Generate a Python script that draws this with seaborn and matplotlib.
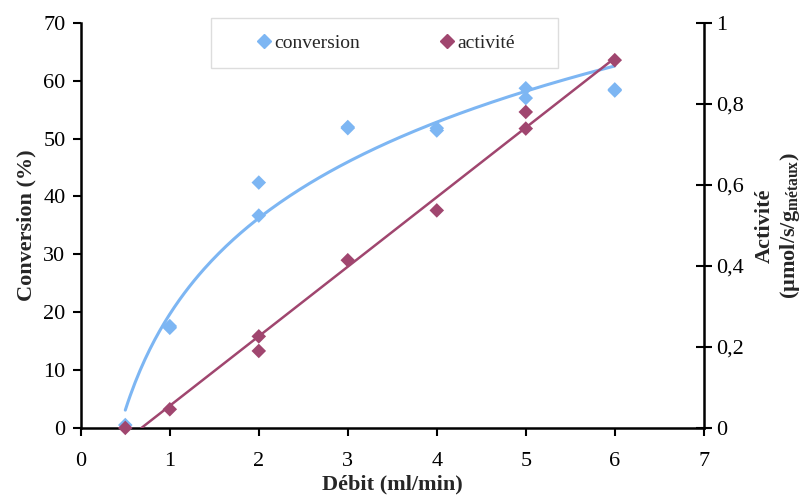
import matplotlib
matplotlib.use("Agg")
import matplotlib.pyplot as plt
from matplotlib.ticker import FuncFormatter, MultipleLocator
from matplotlib.lines import Line2D
from matplotlib.patches import Rectangle
import numpy as np
import pandas as pd
import seaborn as sns

# data
debit_conv = [0.5, 1, 1, 2, 2, 3, 3, 4, 4, 5, 5, 6, 6]
conversion = [0.5, 17.6, 17.3, 42.4, 36.7, 52.0, 51.8, 51.8, 51.4, 58.7, 57.0, 58.5, 58.3]
debit_act = [0.5, 1, 2, 2, 3, 4, 5, 5, 6]
activite = [0.0, 0.046, 0.226, 0.19, 0.414, 0.537, 0.78, 0.739, 0.908]

c_conv = "#7DB6F3"
c_act = "#A0466F"

sns.set_theme(style="white")
plt.rcParams["font.family"] = ["Liberation Serif", "DejaVu Serif"]
plt.rcParams["mathtext.fontset"] = "custom"
plt.rcParams["mathtext.rm"] = "Liberation Serif"
plt.rcParams["mathtext.bf"] = "Liberation Serif:bold"

df_c = pd.DataFrame({"x": debit_conv, "y": conversion})
df_a = pd.DataFrame({"x": debit_act, "y": activite})

# trendlines like Excel: logarithmic for conversion, linear for activite
a, b = np.polyfit(np.log(df_c["x"]), df_c["y"], 1)
xs = np.linspace(min(debit_conv), max(debit_conv), 200)
fit_c = pd.DataFrame({"x": xs, "y": a * np.log(xs) + b})
m, k = np.polyfit(df_a["x"], df_a["y"], 1)
x0 = max(-k / m, min(debit_act))
xa = np.linspace(x0, max(debit_act), 50)
fit_a = pd.DataFrame({"x": xa, "y": m * xa + k})

fig = plt.figure(figsize=(8.08, 4.97), dpi=100)
ax = fig.add_axes([0.1, 0.139, 0.771, 0.815])
ax2 = ax.twinx()

sns.lineplot(data=fit_c, x="x", y="y", ax=ax, color=c_conv, lw=2.2, zorder=2)
sns.scatterplot(data=df_c, x="x", y="y", ax=ax, marker="D", s=55, color=c_conv,
                edgecolor="none", zorder=3, clip_on=False)
sns.lineplot(data=fit_a, x="x", y="y", ax=ax2, color=c_act, lw=1.8, zorder=2)
sns.scatterplot(data=df_a, x="x", y="y", ax=ax2, marker="D", s=55, color=c_act,
                edgecolor="none", zorder=3, clip_on=False)

ax.set_xlim(0, 7)
ax.set_ylim(0, 70)
ax2.set_ylim(0, 1)
ax.xaxis.set_major_locator(MultipleLocator(1))
ax.yaxis.set_major_locator(MultipleLocator(10))
ax2.yaxis.set_major_locator(MultipleLocator(0.2))
ax2.yaxis.set_major_formatter(FuncFormatter(lambda v, p: ("%g" % round(v, 1)).replace(".", ",")))

for a_ in (ax, ax2):
    for s in a_.spines.values():
        s.set_color("black")
        s.set_linewidth(1.8)
    a_.spines["top"].set_visible(False)
ax.spines["right"].set_visible(False)
ax2.spines["left"].set_visible(False)
ax2.spines["bottom"].set_visible(False)

ax.tick_params(axis="both", which="major", direction="out", length=6, width=1.5,
               labelsize=16, colors="black", pad=11, bottom=True, left=True)
ax.tick_params(axis="y", pad=5)
ax2.tick_params(axis="y", direction="inout", length=12, width=1.5, labelsize=16,
                colors="black", pad=3, right=True)

ax.set_xlabel("Débit (ml/min)", fontsize=16, fontweight="bold", labelpad=3)
ax.set_ylabel("Conversion (%)", fontsize=16, fontweight="bold", labelpad=5)
ax2.set_ylabel("Activité\n(µmol/s/g$_{\\mathbf{métaux}}$)", fontsize=16,
               fontweight="bold", labelpad=8, linespacing=1.15)

# legend box drawn separately so its padding matches the reference
fig.patches.append(Rectangle((211 / 808, 1 - 68 / 497), 347 / 808, 50 / 497,
                             transform=fig.transFigure, facecolor="white",
                             edgecolor="#DDDDDD", lw=1, zorder=5))
handles = [
    Line2D([], [], marker="D", ls="none", color=c_conv, markersize=7),
    Line2D([], [], marker="D", ls="none", color=c_act, markersize=7),
]
leg = fig.legend(handles, ["conversion", "activité"], ncol=2, loc="center left",
                 bbox_to_anchor=(254 / 808, 1 - 43 / 497), fontsize=14,
                 frameon=False, handletextpad=0.05, columnspacing=3.95,
                 handlelength=1.0, borderpad=0, borderaxespad=0)
leg.set_zorder(6)

fig.savefig("out.png", dpi=100)
